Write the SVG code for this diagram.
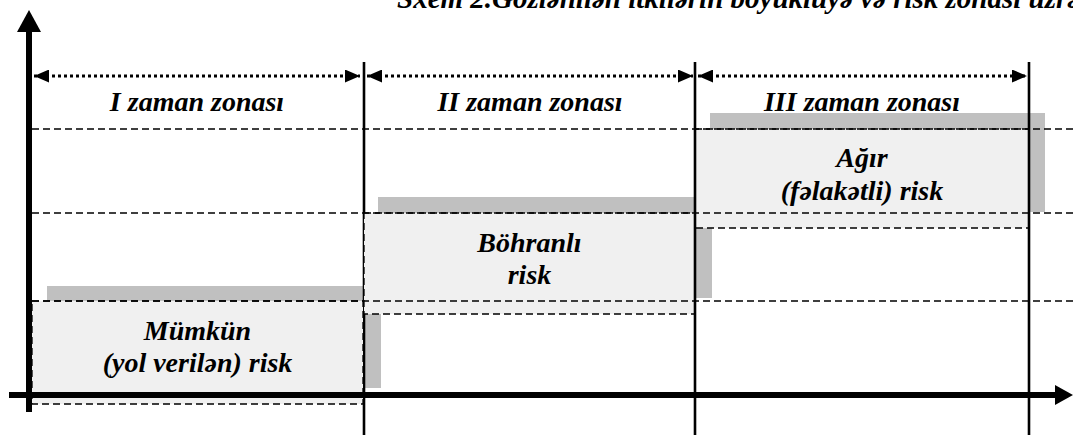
<svg xmlns="http://www.w3.org/2000/svg" width="1073" height="435" viewBox="0 0 1073 435">
<defs>
<style>
text{font-family:"Times New Roman","Liberation Serif",Tinos,"DejaVu Serif",serif;font-weight:700;font-style:italic;font-size:28px;fill:#000}
.c{text-anchor:middle}
.t{font-size:29px}
.box{fill:#f0f0f0;stroke:#000;stroke-width:1.3;stroke-dasharray:7 4}
.sh{fill:#c0c0c0}
.hd{stroke:#000;stroke-width:1.3;stroke-dasharray:7 4;fill:none}
.vl{stroke:#000;stroke-width:2.6}
.dot{stroke:#000;stroke-width:3;stroke-dasharray:3 3;fill:none}
.ax{stroke:#000;stroke-width:6}
</style>
<marker id="ah" viewBox="0 0 15 13" refX="15" refY="6.5" markerWidth="15" markerHeight="13" markerUnits="userSpaceOnUse" orient="auto-start-reverse">
<path d="M0,0 L15,6.5 L0,13 Z" fill="#000"/>
</marker>
</defs>
<rect width="1073" height="435" fill="#fff"/>
<text class="t" x="397" y="8">Sxem 2.Gözlənilən itkilərin böyüklüyə və risk zonası üzrə</text>
<g id="shadows">
<rect class="sh" x="47" y="286" width="334" height="102"/>
<rect class="sh" x="378" y="197" width="334" height="101"/>
<rect class="sh" x="710" y="113" width="335" height="99"/>
</g>
<line class="vl" x1="364" y1="62" x2="364" y2="435"/>
<g id="zone1-box">
<rect class="box" x="32" y="301" width="331" height="103"/>
<text class="c" x="197.5" y="340">Mümkün</text>
<text class="c" x="197.5" y="372">(yol verilən) risk</text>
</g>
<g id="zone2-box">
<rect class="box" x="364" y="213" width="331" height="101"/>
<text class="c" x="529.5" y="252">Böhranlı</text>
<text class="c" x="529.5" y="284">risk</text>
</g>
<g id="zone3-box">
<rect class="box" x="695" y="129" width="334" height="99"/>
<text class="c" x="862" y="167">Ağır</text>
<text class="c" x="862" y="200">(fəlakətli) risk</text>
</g>
<g id="grid">
<line class="hd" x1="32" y1="129" x2="1073" y2="129"/>
<line class="hd" x1="32" y1="213" x2="1073" y2="213"/>
<line class="hd" x1="32" y1="301" x2="1073" y2="301"/>
<line class="vl" x1="695" y1="62" x2="695" y2="435"/>
<line class="vl" x1="1029" y1="62" x2="1029" y2="435"/>
</g>
<g id="axes">
<line class="ax" x1="29" y1="412" x2="29" y2="28"/>
<path d="M29,10 L17,32 L41,32 Z" fill="#000"/>
<line class="ax" x1="9" y1="395" x2="1057" y2="395"/>
<path d="M1073,395 L1055,385 L1055,405 Z" fill="#000"/>
</g>
<g id="connectors">
<line class="dot" x1="34" y1="76" x2="360" y2="76" marker-start="url(#ah)" marker-end="url(#ah)"/>
<line class="dot" x1="367" y1="76" x2="693" y2="76" marker-start="url(#ah)" marker-end="url(#ah)"/>
<line class="dot" x1="698" y1="76" x2="1027" y2="76" marker-start="url(#ah)" marker-end="url(#ah)"/>
</g>
<g id="labels">
<text class="c" x="197" y="111">I zaman zonası</text>
<text class="c" x="530" y="111">II zaman zonası</text>
<text class="c" x="862" y="111">III zaman zonası</text>
</g>
</svg>
